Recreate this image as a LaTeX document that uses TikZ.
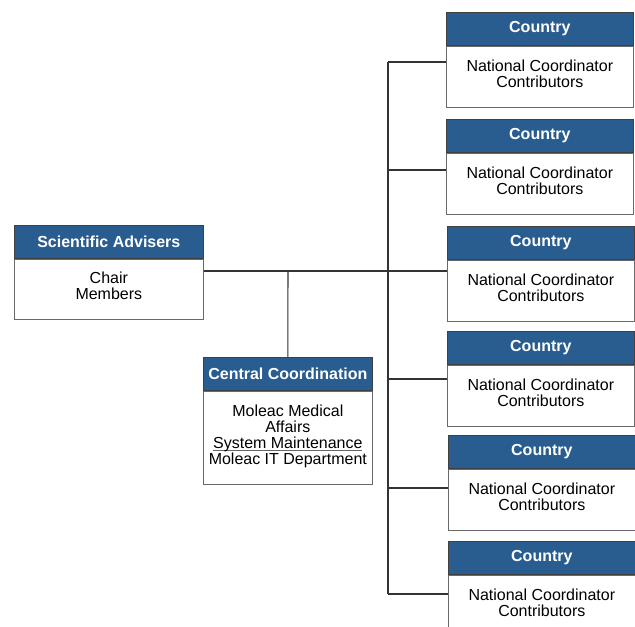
\documentclass[tikz,border=0pt]{standalone}
\usepackage{fontspec}
\setmainfont{Liberation Sans}
\definecolor{headblue}{RGB}{41,92,143}
\definecolor{boxgray}{RGB}{105,105,105}
\newcommand{\liftup}{\rule[-3.5pt]{0pt}{3.5pt}}
\newcommand{\ulthin}[1]{\setbox0=\hbox{#1}\rlap{\smash{\textcolor{black!60}{\rule[-1.3pt]{\wd0}{0.45pt}}}}\box0}
\tikzset{
    head/.style={draw=black!75, fill=headblue, text=white, font=\fontsize{9.1}{9.1}\selectfont\bfseries, minimum height=0.66cm, inner sep=0pt, anchor=north west},
    body/.style={draw=boxgray, fill=white, align=center, font=\fontsize{9.1}{9.1}\selectfont, inner sep=0pt, anchor=north},
    countryhead/.style={head, minimum width=3.74cm},
    countrybody/.style={body, minimum width=3.74cm, minimum height=1.22cm},
    link/.style={draw=black!80, line width=0.6pt}
}

\begin{document}
\begin{tikzpicture}[x=0.02cm, y=-0.02cm]
        \useasboundingbox (0,0) rectangle (635,626);

        % advisers and central coordination
        \node[head, minimum width=3.78cm] (sa) at (14,225) {Scientific Advisers};
        \node[body, minimum width=3.78cm, minimum height=1.2cm] (sab) at (sa.south) {Chair\\Members\liftup};
        \node[head, minimum width=3.38cm] (cc) at (203,357) {Central Coordination};
        \node[body, minimum width=3.38cm, minimum height=1.86cm] (ccb) at (cc.south) {Moleac Medical\\Affairs\\\ulthin{System Maintenance}\\Moleac IT Department\liftup};

        % countries
        \node[countryhead] (c1) at (446,12) {Country};
        \node[countrybody] (c1b) at (c1.south) {National Coordinator\\Contributors\liftup};
        \node[countryhead] (c2) at (446,119) {Country};
        \node[countrybody] (c2b) at (c2.south) {National Coordinator\\Contributors\liftup};
        \node[countryhead] (c3) at (447,226) {Country};
        \node[countrybody] (c3b) at (c3.south) {National Coordinator\\Contributors\liftup};
        \node[countryhead] (c4) at (447,331) {Country};
        \node[countrybody] (c4b) at (c4.south) {National Coordinator\\Contributors\liftup};
        \node[countryhead] (c5) at (448,435) {Country};
        \node[countrybody] (c5b) at (c5.south) {National Coordinator\\Contributors\liftup};
        \node[countryhead] (c6) at (448,541) {Country};
        \node[countrybody] (c6b) at (c6.south) {National Coordinator\\Contributors\liftup};

        % trunk
        \coordinate (t1) at (388,62);
        \coordinate (t2) at (388,170);
        \coordinate (t3) at (388,271);
        \coordinate (t4) at (388,379);
        \coordinate (t5) at (388,488);
        \coordinate (t6) at (388,594);
        \coordinate (j) at (288,271);
        \draw[link] (t1) -- (t6);
        \draw[link] (t1) -- (t1 -| c1b.west);
        \draw[link] (t2) -- (t2 -| c2b.west);
        \draw[link] (sab.east |- t3) -- (t3 -| c3b.west);
        \draw[link] (t4) -- (t4 -| c4b.west);
        \draw[link] (t5) -- (t5 -| c5b.west);
        \draw[link] (t6) -- (t6 -| c6b.west);
        \draw[link] (j) -- (cc.north);
\end{tikzpicture}
\end{document}
